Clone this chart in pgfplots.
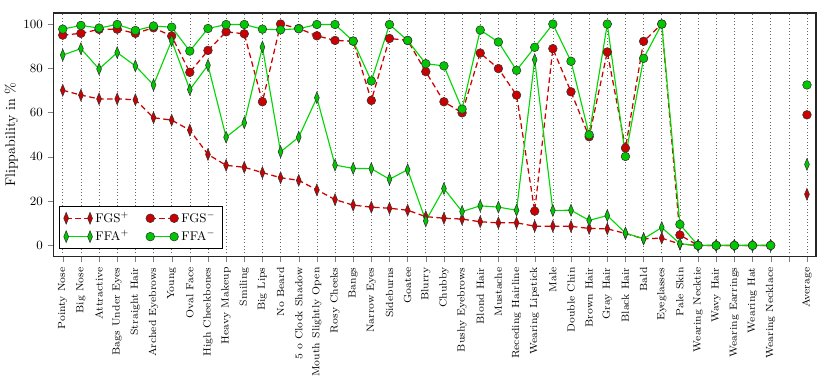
\documentclass[border=0pt]{standalone}
\usepackage{pgfplots}
\usepackage{pgfplotstable}
\pgfplotsset{compat=1.18}

\definecolor{fgsred}{RGB}{204,0,0}
\definecolor{ffagreen}{RGB}{0,200,0}
\definecolor{ffaline}{RGB}{0,215,0}

% x = attribute index, 40 left empty, 41 = average
\pgfplotstableread{
x  fgsp  fgsm  ffap  ffam
0  70.1  95.0  86.0  97.7
1  67.9  95.8  88.9  99.4
2  66.2  97.6  79.7  98.2
3  66.2  97.7  87.1  99.8
4  65.8  95.8  81.1  97.1
5  57.7  98.3  72.5  99.1
6  56.6  94.6  92.5  98.6
7  52.1  78.2  70.4  87.8
8  41.1  88.1  81.4  98.0
9  36.2  96.5  48.9  99.8
10 35.3  95.6  55.4  99.8
11 32.9  64.9  89.6  97.7
12 30.6  100   42.3  97.4
13 29.4  98.0  48.9  97.9
14 25.1  94.7  66.7  99.8
15 20.7  92.6  36.3  99.8
16 18.2  92.3  34.8  92.3
17 17.3  65.5  34.7  74.3
18 16.8  93.5  29.9  99.8
19 15.9  92.6  34.2  92.6
20 13.0  78.5  11.1  82.1
21 12.3  64.9  25.7  81.1
22 11.9  59.9  15.3  61.6
23 10.7  86.9  17.9  97.3
24 10.2  79.9  17.3  91.9
25 10.2  67.9  15.9  79.1
26 8.7   15.5  83.9  89.5
27 8.7   88.9  15.8  100
28 8.6   69.4  15.9  83.2
29 7.7   49.1  11.3  50.0
30 7.5   87.4  13.5  100
31 5.4   44.0  5.6   40.2
32 3.0   92.2  3.0   84.5
33 3.3   100   8.1   100
34 0.6   4.7   0.8   9.5
35 0     0     0     0
36 0     0     0     0
37 0     0     0     0
38 0     0     0     0
39 0     0     0     0
40 nan   nan   nan   nan
41 23.1  59.0  36.6  72.5
}\flipdata

\begin{document}
\begin{tikzpicture}
\begin{axis}[
    scale only axis,
    width=545.7pt, height=174.3pt,
    xmin=-0.5, xmax=41.5,
    ymin=-5, ymax=105,
    xtick={0,...,41},
    xticklabels={Pointy Nose, Big Nose, Attractive, Bags Under Eyes, Straight Hair,
        Arched Eyebrows, Young, Oval Face, High Cheekbones, Heavy Makeup, Smiling,
        Big Lips, No Beard, 5 o Clock Shadow, Mouth Slightly Open, Rosy Cheeks, Bangs,
        Narrow Eyes, Sideburns, Goatee, Blurry, Chubby, Bushy Eyebrows, Blond Hair,
        Mustache, Receding Hairline, Wearing Lipstick, Male, Double Chin, Brown Hair,
        Gray Hair, Black Hair, Bald, Eyeglasses, Pale Skin, Wearing Necktie, Wavy Hair,
        Wearing Earrings, Wearing Hat, Wearing Necklace, {}, Average},
    x tick label style={rotate=90, anchor=east, font=\fontsize{7.4}{8}\selectfont},
    ytick={0,20,...,100},
    y tick label style={font=\small},
    ylabel={Flippability in \%},
    ylabel style={yshift=-3pt},
    xmajorgrids,
    major x grid style={black!60, dash pattern=on 0.6pt off 1.8pt, line width=0.45pt},
    tick align=outside,
    xtick pos=bottom, ytick pos=left,
    axis line style={black!85, line width=0.9pt},
    unbounded coords=jump,
    legend columns=2,
    legend style={at={(0.007,0.03)}, anchor=south west, font=\small,
        draw=black, line width=0.8pt, /tikz/every even column/.append style={column sep=10pt}},
    legend image code/.code={\draw[#1] plot coordinates {(0cm,0cm) (0.6cm,0cm)};},
]
\addplot[fgsred, line width=0.9pt, dash pattern=on 4pt off 2.5pt,
    mark=diamond*, mark size=4.2pt,
    mark options={solid, xscale=0.55, fill=fgsred, draw=black!80, line width=0.4pt}]
    table[x=x, y=fgsp] {\flipdata};
\addlegendentry{FGS$^{+}$}
\addplot[fgsred, line width=0.9pt, dash pattern=on 4pt off 2.5pt,
    mark=*, mark size=3.1pt,
    mark options={solid, fill=fgsred, draw=black!80, line width=0.4pt}]
    table[x=x, y=fgsm] {\flipdata};
\addlegendentry{FGS$^{-}$}
\addplot[ffaline, line width=0.8pt,
    mark=diamond*, mark size=4.2pt,
    mark options={solid, xscale=0.55, fill=ffagreen, draw=black!80, line width=0.4pt}]
    table[x=x, y=ffap] {\flipdata};
\addlegendentry{FFA$^{+}$}
\addplot[ffaline, line width=0.8pt,
    mark=*, mark size=3.1pt,
    mark options={solid, fill=ffagreen, draw=black!80, line width=0.4pt}]
    table[x=x, y=ffam] {\flipdata};
\addlegendentry{FFA$^{-}$}
\end{axis}
\path ([xshift=-37pt,yshift=-86.4pt]current axis.south west)
      ([xshift=10pt,yshift=9.3pt]current axis.north east);
\end{tikzpicture}
\end{document}
